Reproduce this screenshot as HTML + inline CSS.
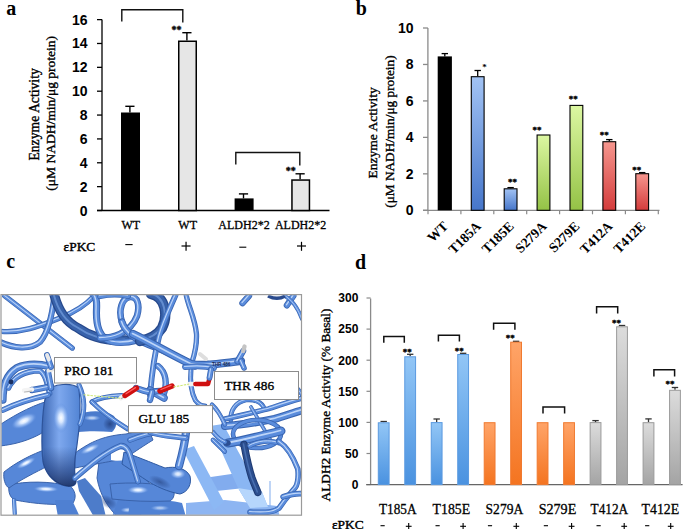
<!DOCTYPE html>
<html><head><meta charset="utf-8"><style>
html,body{margin:0;padding:0;background:#fff;}
svg{display:block;}
</style></head><body>
<svg width="685" height="529" viewBox="0 0 685 529">
<rect width="685" height="529" fill="#fff"/>
<text x="6.2" y="14.6" font-family='"Liberation Serif", serif' font-size="20" font-weight="bold" text-anchor="start" fill="#000" >a</text>
<line x1="102" y1="19.6" x2="102" y2="211.1" stroke="#000" stroke-width="1.3"/>
<line x1="97" y1="210.5" x2="102" y2="210.5" stroke="#000" stroke-width="1.3"/>
<text x="87.5" y="215.5" font-family='"Liberation Sans", sans-serif' font-size="14" font-weight="bold" text-anchor="end" fill="#000" >0</text>
<line x1="97" y1="186.64" x2="102" y2="186.64" stroke="#000" stroke-width="1.3"/>
<text x="87.5" y="191.64" font-family='"Liberation Sans", sans-serif' font-size="14" font-weight="bold" text-anchor="end" fill="#000" >2</text>
<line x1="97" y1="162.78" x2="102" y2="162.78" stroke="#000" stroke-width="1.3"/>
<text x="87.5" y="167.78" font-family='"Liberation Sans", sans-serif' font-size="14" font-weight="bold" text-anchor="end" fill="#000" >4</text>
<line x1="97" y1="138.92000000000002" x2="102" y2="138.92000000000002" stroke="#000" stroke-width="1.3"/>
<text x="87.5" y="143.92000000000002" font-family='"Liberation Sans", sans-serif' font-size="14" font-weight="bold" text-anchor="end" fill="#000" >6</text>
<line x1="97" y1="115.06" x2="102" y2="115.06" stroke="#000" stroke-width="1.3"/>
<text x="87.5" y="120.06" font-family='"Liberation Sans", sans-serif' font-size="14" font-weight="bold" text-anchor="end" fill="#000" >8</text>
<line x1="97" y1="91.2" x2="102" y2="91.2" stroke="#000" stroke-width="1.3"/>
<text x="87.5" y="96.2" font-family='"Liberation Sans", sans-serif' font-size="14" font-weight="bold" text-anchor="end" fill="#000" >10</text>
<line x1="97" y1="67.34" x2="102" y2="67.34" stroke="#000" stroke-width="1.3"/>
<text x="87.5" y="72.34" font-family='"Liberation Sans", sans-serif' font-size="14" font-weight="bold" text-anchor="end" fill="#000" >12</text>
<line x1="97" y1="43.48000000000002" x2="102" y2="43.48000000000002" stroke="#000" stroke-width="1.3"/>
<text x="87.5" y="48.48000000000002" font-family='"Liberation Sans", sans-serif' font-size="14" font-weight="bold" text-anchor="end" fill="#000" >14</text>
<line x1="97" y1="19.620000000000005" x2="102" y2="19.620000000000005" stroke="#000" stroke-width="1.3"/>
<text x="87.5" y="24.620000000000005" font-family='"Liberation Sans", sans-serif' font-size="14" font-weight="bold" text-anchor="end" fill="#000" >16</text>
<line x1="97" y1="210.5" x2="329.5" y2="210.5" stroke="#000" stroke-width="1.4"/>
<line x1="129.9" y1="106.3" x2="129.9" y2="112.5" stroke="#000" stroke-width="1.4"/>
<line x1="125.30000000000001" y1="106.3" x2="134.5" y2="106.3" stroke="#000" stroke-width="1.4"/>
<rect x="121" y="112.5" width="19" height="98.0" fill="#000"/>
<line x1="186.9" y1="32.7" x2="186.9" y2="40.5" stroke="#000" stroke-width="1.4"/>
<line x1="182.3" y1="32.7" x2="191.5" y2="32.7" stroke="#000" stroke-width="1.4"/>
<rect x="178.75" y="41.25" width="17.5" height="169.25" fill="#e6e6e6" stroke="#000" stroke-width="1.5"/>
<line x1="243.5" y1="193.9" x2="243.5" y2="198.4" stroke="#000" stroke-width="1.4"/>
<line x1="238.9" y1="193.9" x2="248.1" y2="193.9" stroke="#000" stroke-width="1.4"/>
<rect x="234.6" y="198.4" width="19" height="12.099999999999994" fill="#000"/>
<line x1="300.09999999999997" y1="173.8" x2="300.09999999999997" y2="179.3" stroke="#000" stroke-width="1.4"/>
<line x1="295.49999999999994" y1="173.8" x2="304.7" y2="173.8" stroke="#000" stroke-width="1.4"/>
<rect x="291.95" y="180.05" width="17.5" height="30.44999999999999" fill="#e6e6e6" stroke="#000" stroke-width="1.5"/>
<path d="M121.8 21.6 L121.8 9.8 L182.8 9.8 L182.8 22.6" fill="none" stroke="#111" stroke-width="1.4"/>
<path d="M235.8 164.4 L235.8 152.5 L299.8 152.5 L299.8 165.5" fill="none" stroke="#111" stroke-width="1.4"/>
<text x="176.6" y="33.2" font-family='"Liberation Serif", serif' font-size="10" font-weight="bold" text-anchor="middle" fill="#000" stroke="#000" stroke-width="0.35" >**</text>
<text x="290.8" y="174.2" font-family='"Liberation Serif", serif' font-size="10" font-weight="bold" text-anchor="middle" fill="#000" stroke="#000" stroke-width="0.35" >**</text>
<text x="130.8" y="228.8" font-family='"Liberation Serif", serif' font-size="12" font-weight="normal" text-anchor="middle" fill="#000" stroke="#000" stroke-width="0.3" >WT</text>
<text x="187.7" y="228.8" font-family='"Liberation Serif", serif' font-size="12" font-weight="normal" text-anchor="middle" fill="#000" stroke="#000" stroke-width="0.3" >WT</text>
<text x="244" y="228.8" font-family='"Liberation Serif", serif' font-size="12" font-weight="normal" text-anchor="middle" fill="#000" stroke="#000" stroke-width="0.3" >ALDH2*2</text>
<text x="300.6" y="228.8" font-family='"Liberation Serif", serif' font-size="12" font-weight="normal" text-anchor="middle" fill="#000" stroke="#000" stroke-width="0.3" >ALDH2*2</text>
<text x="63.6" y="250.8" font-family='"Liberation Serif", serif' font-size="13.4" font-weight="normal" text-anchor="start" fill="#000" stroke="#000" stroke-width="0.4" >&#949;PKC</text>
<line x1="125.3" y1="244.6" x2="132.6" y2="244.6" stroke="#000" stroke-width="1.1"/>
<line x1="181.5" y1="246.0" x2="190.6" y2="246.0" stroke="#000" stroke-width="1.2"/>
<line x1="186.05" y1="241.8" x2="186.05" y2="250.8" stroke="#000" stroke-width="1.2"/>
<line x1="239.3" y1="247.2" x2="246.3" y2="247.2" stroke="#000" stroke-width="1.1"/>
<line x1="297.0" y1="246.0" x2="306.0" y2="246.0" stroke="#000" stroke-width="1.2"/>
<line x1="301.5" y1="241.8" x2="301.5" y2="250.8" stroke="#000" stroke-width="1.2"/>
<text transform="translate(39.3,114.4) rotate(-90)" font-family='"Liberation Serif", serif' font-size="13.7" text-anchor="middle" stroke="#000" stroke-width="0.35">Enzyme Activity</text>
<text transform="translate(55.3,113.3) rotate(-90)" font-family='"Liberation Serif", serif' font-size="13.5" text-anchor="middle" stroke="#000" stroke-width="0.35">(&#956;M NADH/min/&#956;g protein)</text>
<defs>
<linearGradient id="gb" x1="0" y1="0" x2="0" y2="1"><stop offset="0" stop-color="#a2c3f4"/><stop offset="1" stop-color="#4676ca"/></linearGradient>
<linearGradient id="gg" x1="0" y1="0" x2="0" y2="1"><stop offset="0" stop-color="#dcf7a2"/><stop offset="1" stop-color="#94c246"/></linearGradient>
<linearGradient id="gr" x1="0" y1="0" x2="0" y2="1"><stop offset="0" stop-color="#f6968e"/><stop offset="1" stop-color="#d43c3c"/></linearGradient>
</defs>
<text x="355.7" y="14.6" font-family='"Liberation Serif", serif' font-size="20" font-weight="bold" text-anchor="start" fill="#000" >b</text>
<line x1="427.9" y1="28" x2="427.9" y2="210.3" stroke="#8a8a8a" stroke-width="1.3"/>
<line x1="423" y1="210.3" x2="427.9" y2="210.3" stroke="#8a8a8a" stroke-width="1.3"/>
<text x="413.6" y="215.3" font-family='"Liberation Sans", sans-serif' font-size="14" font-weight="bold" text-anchor="end" fill="#000" >0</text>
<line x1="423" y1="173.84" x2="427.9" y2="173.84" stroke="#8a8a8a" stroke-width="1.3"/>
<text x="413.6" y="178.84" font-family='"Liberation Sans", sans-serif' font-size="14" font-weight="bold" text-anchor="end" fill="#000" >2</text>
<line x1="423" y1="137.38" x2="427.9" y2="137.38" stroke="#8a8a8a" stroke-width="1.3"/>
<text x="413.6" y="142.38" font-family='"Liberation Sans", sans-serif' font-size="14" font-weight="bold" text-anchor="end" fill="#000" >4</text>
<line x1="423" y1="100.92000000000002" x2="427.9" y2="100.92000000000002" stroke="#8a8a8a" stroke-width="1.3"/>
<text x="413.6" y="105.92000000000002" font-family='"Liberation Sans", sans-serif' font-size="14" font-weight="bold" text-anchor="end" fill="#000" >6</text>
<line x1="423" y1="64.46000000000001" x2="427.9" y2="64.46000000000001" stroke="#8a8a8a" stroke-width="1.3"/>
<text x="413.6" y="69.46000000000001" font-family='"Liberation Sans", sans-serif' font-size="14" font-weight="bold" text-anchor="end" fill="#000" >8</text>
<line x1="423" y1="28.0" x2="427.9" y2="28.0" stroke="#8a8a8a" stroke-width="1.3"/>
<text x="413.6" y="33.0" font-family='"Liberation Sans", sans-serif' font-size="14" font-weight="bold" text-anchor="end" fill="#000" >10</text>
<line x1="423" y1="210.3" x2="659.5" y2="210.3" stroke="#8a8a8a" stroke-width="1.3"/>
<line x1="428.0" y1="210.3" x2="428.0" y2="214.3" stroke="#8a8a8a" stroke-width="1.2"/>
<line x1="460.9" y1="210.3" x2="460.9" y2="214.3" stroke="#8a8a8a" stroke-width="1.2"/>
<line x1="493.8" y1="210.3" x2="493.8" y2="214.3" stroke="#8a8a8a" stroke-width="1.2"/>
<line x1="526.7" y1="210.3" x2="526.7" y2="214.3" stroke="#8a8a8a" stroke-width="1.2"/>
<line x1="559.6" y1="210.3" x2="559.6" y2="214.3" stroke="#8a8a8a" stroke-width="1.2"/>
<line x1="592.5" y1="210.3" x2="592.5" y2="214.3" stroke="#8a8a8a" stroke-width="1.2"/>
<line x1="625.4" y1="210.3" x2="625.4" y2="214.3" stroke="#8a8a8a" stroke-width="1.2"/>
<line x1="658.3" y1="210.3" x2="658.3" y2="214.3" stroke="#8a8a8a" stroke-width="1.2"/>
<line x1="444.8" y1="53.6" x2="444.8" y2="56.4" stroke="#000" stroke-width="1.3"/>
<line x1="441.6" y1="53.6" x2="448.0" y2="53.6" stroke="#000" stroke-width="1.3"/>
<rect x="437.7" y="56.4" width="14.2" height="153.9" fill="#000"/>
<text transform="translate(448.8,227.0) rotate(-45)" font-family='"Liberation Serif", serif' font-size="13.6" font-weight="bold" text-anchor="end">WT</text>
<line x1="477.7" y1="70.5" x2="477.7" y2="76.2" stroke="#000" stroke-width="1.3"/>
<line x1="474.5" y1="70.5" x2="480.9" y2="70.5" stroke="#000" stroke-width="1.3"/>
<rect x="471.3" y="76.7" width="12.8" height="133.60000000000002" fill="url(#gb)" stroke="#000" stroke-width="1.1"/>
<text transform="translate(481.7,227.0) rotate(-45)" font-family='"Liberation Serif", serif' font-size="13.6" font-weight="bold" text-anchor="end">T185A</text>
<line x1="510.6" y1="187.6" x2="510.6" y2="188.3" stroke="#000" stroke-width="1.3"/>
<line x1="507.40000000000003" y1="187.6" x2="513.8000000000001" y2="187.6" stroke="#000" stroke-width="1.3"/>
<rect x="504.20000000000005" y="188.8" width="12.8" height="21.5" fill="url(#gb)" stroke="#000" stroke-width="1.1"/>
<text transform="translate(514.6,227.0) rotate(-45)" font-family='"Liberation Serif", serif' font-size="13.6" font-weight="bold" text-anchor="end">T185E</text>
<rect x="537.1" y="135.0" width="12.8" height="75.30000000000001" fill="url(#gg)" stroke="#000" stroke-width="1.1"/>
<text transform="translate(547.5,227.0) rotate(-45)" font-family='"Liberation Serif", serif' font-size="13.6" font-weight="bold" text-anchor="end">S279A</text>
<rect x="570.0" y="105.4" width="12.8" height="104.9" fill="url(#gg)" stroke="#000" stroke-width="1.1"/>
<text transform="translate(580.4,227.0) rotate(-45)" font-family='"Liberation Serif", serif' font-size="13.6" font-weight="bold" text-anchor="end">S279E</text>
<line x1="609.3" y1="139.6" x2="609.3" y2="141.2" stroke="#000" stroke-width="1.3"/>
<line x1="606.0999999999999" y1="139.6" x2="612.5" y2="139.6" stroke="#000" stroke-width="1.3"/>
<rect x="602.9" y="141.7" width="12.8" height="68.60000000000002" fill="url(#gr)" stroke="#000" stroke-width="1.1"/>
<text transform="translate(613.3,227.0) rotate(-45)" font-family='"Liberation Serif", serif' font-size="13.6" font-weight="bold" text-anchor="end">T412A</text>
<line x1="642.2" y1="172.6" x2="642.2" y2="173.2" stroke="#000" stroke-width="1.3"/>
<line x1="639.0" y1="172.6" x2="645.4000000000001" y2="172.6" stroke="#000" stroke-width="1.3"/>
<rect x="635.8000000000001" y="173.7" width="12.8" height="36.60000000000002" fill="url(#gr)" stroke="#000" stroke-width="1.1"/>
<text transform="translate(646.2,227.0) rotate(-45)" font-family='"Liberation Serif", serif' font-size="13.6" font-weight="bold" text-anchor="end">T412E</text>
<text x="484.5" y="70.3" font-family='"Liberation Serif", serif' font-size="9" font-weight="bold" text-anchor="middle" fill="#000" >*</text>
<text x="512.5" y="184.98000000000002" font-family='"Liberation Serif", serif' font-size="9" font-weight="bold" text-anchor="middle" fill="#000" stroke="#000" stroke-width="0.35" >**</text>
<text x="536.9" y="132.98000000000002" font-family='"Liberation Serif", serif' font-size="9" font-weight="bold" text-anchor="middle" fill="#000" stroke="#000" stroke-width="0.35" >**</text>
<text x="573.2" y="102.18" font-family='"Liberation Serif", serif' font-size="9" font-weight="bold" text-anchor="middle" fill="#000" stroke="#000" stroke-width="0.35" >**</text>
<text x="604.2" y="137.88" font-family='"Liberation Serif", serif' font-size="9" font-weight="bold" text-anchor="middle" fill="#000" stroke="#000" stroke-width="0.35" >**</text>
<text x="636.8" y="172.98000000000002" font-family='"Liberation Serif", serif' font-size="9" font-weight="bold" text-anchor="middle" fill="#000" stroke="#000" stroke-width="0.35" >**</text>
<text transform="translate(377.3,132.9) rotate(-90)" font-family='"Liberation Serif", serif' font-size="13.5" text-anchor="middle" stroke="#000" stroke-width="0.35">Enzyme Activity</text>
<text transform="translate(394.0,131.6) rotate(-90)" font-family='"Liberation Serif", serif' font-size="13.3" text-anchor="middle" stroke="#000" stroke-width="0.35">(&#956;M NADH/min/&#956;g protein)</text>
<text x="6.2" y="268.1" font-family='"Liberation Serif", serif' font-size="20" font-weight="bold" text-anchor="start" fill="#000" >c</text>
<defs>
<clipPath id="cclip"><rect x="1.5" y="295.2" width="299.5" height="219.5"/></clipPath>
<radialGradient id="hlA" cx="0.5" cy="0.5" r="0.5"><stop offset="0" stop-color="#ffffff"/><stop offset="0.3" stop-color="#d8e8ff"/><stop offset="0.7" stop-color="#90b6f2" stop-opacity="0.6"/><stop offset="1" stop-color="#5687d8" stop-opacity="0"/></radialGradient>
<radialGradient id="shA" cx="0.5" cy="0.5" r="0.5"><stop offset="0" stop-color="#1c3670"/><stop offset="0.6" stop-color="#2a4b8e" stop-opacity="0.6"/><stop offset="1" stop-color="#2a4b8e" stop-opacity="0"/></radialGradient>
</defs>
<rect x="1" y="294.6" width="300.5" height="220.6" fill="#fff"/>
<g clip-path="url(#cclip)">
<path d="M186 503 L225 500 L277 506 L280 517 L186 517 Z" fill="#8db5f2" />
<path d="M204 478 L252 471 L254 487 L207 492 Z" fill="#82acee" />
<path d="M183 450 L194 446 L224 502 L214 510 Z" fill="#8cb8f4" />
<path d="M210 426 L223 424 L254 480 L262 492 L268 507 L250 508 L244 498 L238 488 Z" fill="#8ab6f3" />
<path d="M238 488 L262 492 L268 507 L250 508 Z" fill="#b6d6fc" />
<path d="M99 462 C108 458 118 457 126 458 L140 470 L150 484 L140 517 L118 517 C108 508 100 495 97 478 Z" fill="#5687d8" stroke="#3a63ab" stroke-width="1"/>
<ellipse cx="108" cy="502" rx="10" ry="6" fill="url(#shA)" opacity="0.6" transform="rotate(30 108 502)"/>
<path d="M75 453 C88 444 100 436 126 434 C135 432 142 430 148 428 L153 440 C140 448 130 455 126 458 C115 461 100 463 75 468 Z" fill="#5b8bda" stroke="#3a62aa" stroke-width="1"/>
<ellipse cx="90" cy="449" rx="11" ry="3.5" fill="url(#hlA)" opacity="0.9" transform="rotate(-25 90 449)"/>
<path d="M111 450 C116 448 124 449 127 452 L126 460 C120 461 114 461 111 460 Z" fill="#ffffff" />
<path d="M77 415 C88 410 105 410 114 416 C118 422 116 429 112 432 C100 431 88 431 78 432 Z" fill="#4b7bcc" />
<ellipse cx="92" cy="418" rx="9" ry="3" fill="url(#hlA)" opacity="0.7" transform="rotate(0 92 418)"/>
<ellipse cx="110" cy="424" rx="7" ry="7" fill="url(#shA)" opacity="0.75" transform="rotate(0 110 424)"/>
<path d="M77 481 L85 478 L101 496 L106 517 L94 517 L79 491 Z" fill="#4d7cca" />
<path d="M118 500 C130 498 150 497 160 498 L160 517 L112 517 Z" fill="#4f80d2" />
<ellipse cx="128" cy="510" rx="8" ry="3" fill="url(#hlA)" opacity="0.7" transform="rotate(0 128 510)"/>
<path d="M130 500 C150 498 170 500 182 503 L186 517 L128 517 Z" fill="#5082d4" />
<ellipse cx="160" cy="508" rx="10" ry="3" fill="url(#hlA)" opacity="0.6" transform="rotate(0 160 508)"/>
<path d="M110 484 C130 482 155 483 172 487 C176 492 174 499 170 501 C150 502 130 501 112 499 Z" fill="#5687d8" stroke="#3a63ab" stroke-width="1"/>
<ellipse cx="138" cy="490" rx="11" ry="4" fill="url(#hlA)" opacity="1" transform="rotate(0 138 490)"/>
<path d="M124 452 C135 456 150 462 165 468 C175 466 186 468 190 476 C192 484 188 492 180 494 C168 492 155 486 146 480 C137 474 128 468 122 464 Z" fill="#5485d6" stroke="#2f5aa2" stroke-width="1"/>
<ellipse cx="160" cy="482" rx="12" ry="5" fill="url(#shA)" opacity="0.55" transform="rotate(25 160 482)"/>
<ellipse cx="178" cy="474" rx="8" ry="5" fill="url(#hlA)" opacity="0.9" transform="rotate(0 178 474)"/>
<path d="M186 432 C185 444 182 455 179 466" fill="none" stroke="#3864b0" stroke-width="8.28" stroke-linecap="round" stroke-linejoin="round"/>
<path d="M186 432 C185 444 182 455 179 466" fill="none" stroke="#5a8cdc" stroke-width="6.13" stroke-linecap="round" stroke-linejoin="round"/>
<path d="M186 432 C185 444 182 455 179 466" fill="none" stroke="#cfe2fd" stroke-width="1.66" stroke-linecap="round" stroke-linejoin="round" opacity="0.85" transform="translate(-0.5,-0.5)"/>
<defs><linearGradient id="h1g" x1="0" y1="0" x2="1" y2="0"><stop offset="0" stop-color="#3b66b2"/><stop offset="0.45" stop-color="#7ea8ee"/><stop offset="1" stop-color="#5284d4"/></linearGradient></defs>
<path d="M9 485 C25 481 50 481 70 486 C75 490 77 497 73 503 C60 506 35 504 15 500 C10 498 8 492 9 485 Z" fill="#5687d8" stroke="#3a63ab" stroke-width="1"/>
<ellipse cx="46" cy="489" rx="13" ry="3.2" fill="url(#hlA)" opacity="1" transform="rotate(2 46 489)"/>
<path d="M55 500 L72 500 L80 517 L58 517 Z" fill="#4f80d2" />
<path d="M4 472 C15 463 32 454 47 449 C50 455 50 462 48 466 C36 472 20 480 9 488 C5 486 3 478 4 472 Z" fill="#5687d8" stroke="#3a63ab" stroke-width="1"/>
<ellipse cx="26" cy="463" rx="11" ry="3.5" fill="url(#hlA)" opacity="1" transform="rotate(-28 26 463)"/>
<path d="M-2 426 C10 418 28 407 48 401 L52 425 C45 433 30 440 15 443.5 C8 445 2 446 -2 446 Z" fill="#5687d8" stroke="#3a63ab" stroke-width="1"/>
<ellipse cx="24" cy="421" rx="14" ry="6.5" fill="url(#hlA)" opacity="1" transform="rotate(-25 24 421)"/>
<path d="M48 392 C50 383 76 382 79 389 C81 405 80 425 77 445 C75 458 73 468 76 480 C77 486 70 488 62 485 C52 481 45 472 43 462 C41 445 42 420 44 405 C45 398 46 394 48 392 Z" fill="url(#h1g)" stroke="#2e549a" stroke-width="1.2"/>
<ellipse cx="61" cy="418" rx="8" ry="15" fill="url(#hlA)" opacity="1" transform="rotate(0 61 418)"/>
<defs><linearGradient id="h1s" x1="0" y1="0" x2="0" y2="1"><stop offset="0" stop-color="#1e3a78" stop-opacity="0"/><stop offset="0.55" stop-color="#1e3a78" stop-opacity="0.55"/><stop offset="1" stop-color="#15295a" stop-opacity="0.85"/></linearGradient></defs>
<path d="M44 448 C50 446 70 446 76 448 C75 458 73 468 76 480 C77 486 70 488 62 485 C52 481 45 472 43 462 Z" fill="url(#h1s)" />
<path d="M14 500 L15 517" fill="none" stroke="#3864b0" stroke-width="4.14" stroke-linecap="round" stroke-linejoin="round"/>
<path d="M14 500 L15 517" fill="none" stroke="#5a8cdc" stroke-width="3.06" stroke-linecap="round" stroke-linejoin="round"/>
<path d="M14 500 L15 517" fill="none" stroke="#cfe2fd" stroke-width="0.83" stroke-linecap="round" stroke-linejoin="round" opacity="0.85" transform="translate(-0.5,-0.5)"/>
<path d="M75 478 C90 465 105 452 121 445.7 C126 446 129 450 131 458 L138 481.5" fill="none" stroke="#3864b0" stroke-width="5.795999999999999" stroke-linecap="round" stroke-linejoin="round"/>
<path d="M75 478 C90 465 105 452 121 445.7 C126 446 129 450 131 458 L138 481.5" fill="none" stroke="#5a8cdc" stroke-width="4.29" stroke-linecap="round" stroke-linejoin="round"/>
<path d="M75 478 C90 465 105 452 121 445.7 C126 446 129 450 131 458 L138 481.5" fill="none" stroke="#cfe2fd" stroke-width="1.16" stroke-linecap="round" stroke-linejoin="round" opacity="0.85" transform="translate(-0.5,-0.5)"/>
<path d="M130 440 C140 436 150 433 160 432" fill="none" stroke="#3864b0" stroke-width="5.52" stroke-linecap="round" stroke-linejoin="round"/>
<path d="M130 440 C140 436 150 433 160 432" fill="none" stroke="#5a8cdc" stroke-width="4.08" stroke-linecap="round" stroke-linejoin="round"/>
<path d="M130 440 C140 436 150 433 160 432" fill="none" stroke="#cfe2fd" stroke-width="1.10" stroke-linecap="round" stroke-linejoin="round" opacity="0.85" transform="translate(-0.5,-0.5)"/>
<path d="M79 385 C85 398 85 412 80 424" fill="none" stroke="#3864b0" stroke-width="4.968" stroke-linecap="round" stroke-linejoin="round"/>
<path d="M79 385 C85 398 85 412 80 424" fill="none" stroke="#5a8cdc" stroke-width="3.68" stroke-linecap="round" stroke-linejoin="round"/>
<path d="M79 385 C85 398 85 412 80 424" fill="none" stroke="#cfe2fd" stroke-width="0.99" stroke-linecap="round" stroke-linejoin="round" opacity="0.85" transform="translate(-0.5,-0.5)"/>
<path d="M4.5 295.7 L72.3 348.1" fill="none" stroke="#3864b0" stroke-width="5.244" stroke-linecap="round" stroke-linejoin="round"/>
<path d="M4.5 295.7 L72.3 348.1" fill="none" stroke="#5a8cdc" stroke-width="3.88" stroke-linecap="round" stroke-linejoin="round"/>
<path d="M4.5 295.7 L72.3 348.1" fill="none" stroke="#cfe2fd" stroke-width="1.05" stroke-linecap="round" stroke-linejoin="round" opacity="0.85" transform="translate(-0.5,-0.5)"/>
<path d="M-2 331 C20 334 40 326 60 318 C75 312 86 305 94 296" fill="none" stroke="#3864b0" stroke-width="5.244" stroke-linecap="round" stroke-linejoin="round"/>
<path d="M-2 331 C20 334 40 326 60 318 C75 312 86 305 94 296" fill="none" stroke="#5a8cdc" stroke-width="3.88" stroke-linecap="round" stroke-linejoin="round"/>
<path d="M-2 331 C20 334 40 326 60 318 C75 312 86 305 94 296" fill="none" stroke="#cfe2fd" stroke-width="1.05" stroke-linecap="round" stroke-linejoin="round" opacity="0.85" transform="translate(-0.5,-0.5)"/>
<path d="M-2 341 C14 349 30 350 40 342 C48 333 52 318 54.6 294" fill="none" stroke="#3864b0" stroke-width="6.072" stroke-linecap="round" stroke-linejoin="round"/>
<path d="M-2 341 C14 349 30 350 40 342 C48 333 52 318 54.6 294" fill="none" stroke="#5a8cdc" stroke-width="4.49" stroke-linecap="round" stroke-linejoin="round"/>
<path d="M-2 341 C14 349 30 350 40 342 C48 333 52 318 54.6 294" fill="none" stroke="#cfe2fd" stroke-width="1.21" stroke-linecap="round" stroke-linejoin="round" opacity="0.85" transform="translate(-0.5,-0.5)"/>
<path d="M54 294 C58 310 66 322 78 328 C92 338 110 341 125 340" fill="none" stroke="#27498c" stroke-width="9.66" stroke-linecap="round" stroke-linejoin="round"/>
<path d="M54 294 C58 310 66 322 78 328 C92 338 110 341 125 340" fill="none" stroke="#3862aa" stroke-width="7.15" stroke-linecap="round" stroke-linejoin="round"/>
<path d="M54 294 C58 310 66 322 78 328 C92 338 110 341 125 340" fill="none" stroke="#6a94d6" stroke-width="1.93" stroke-linecap="round" stroke-linejoin="round" opacity="0.85" transform="translate(-0.5,-0.5)"/>
<path d="M93 294 C96 296 97 300 96.5 310 C96 324 98 334 106 339 C114 344 126 343 138 340" fill="none" stroke="#3864b0" stroke-width="7.175999999999999" stroke-linecap="round" stroke-linejoin="round"/>
<path d="M93 294 C96 296 97 300 96.5 310 C96 324 98 334 106 339 C114 344 126 343 138 340" fill="none" stroke="#5a8cdc" stroke-width="5.31" stroke-linecap="round" stroke-linejoin="round"/>
<path d="M93 294 C96 296 97 300 96.5 310 C96 324 98 334 106 339 C114 344 126 343 138 340" fill="none" stroke="#cfe2fd" stroke-width="1.44" stroke-linecap="round" stroke-linejoin="round" opacity="0.85" transform="translate(-0.5,-0.5)"/>
<path d="M122 322 C118 310 122 298 130 297 C138 296 140 306 137 316 C134 324 128 330 120 334 C112 338 106 338 100 338" fill="none" stroke="#3864b0" stroke-width="6.624" stroke-linecap="round" stroke-linejoin="round"/>
<path d="M122 322 C118 310 122 298 130 297 C138 296 140 306 137 316 C134 324 128 330 120 334 C112 338 106 338 100 338" fill="none" stroke="#5a8cdc" stroke-width="4.90" stroke-linecap="round" stroke-linejoin="round"/>
<path d="M122 322 C118 310 122 298 130 297 C138 296 140 306 137 316 C134 324 128 330 120 334 C112 338 106 338 100 338" fill="none" stroke="#cfe2fd" stroke-width="1.32" stroke-linecap="round" stroke-linejoin="round" opacity="0.85" transform="translate(-0.5,-0.5)"/>
<path d="M122 322 C126 335 140 342 155 347 C168 352 180 358 195 366" fill="none" stroke="#3864b0" stroke-width="7.175999999999999" stroke-linecap="round" stroke-linejoin="round"/>
<path d="M122 322 C126 335 140 342 155 347 C168 352 180 358 195 366" fill="none" stroke="#5a8cdc" stroke-width="5.31" stroke-linecap="round" stroke-linejoin="round"/>
<path d="M122 322 C126 335 140 342 155 347 C168 352 180 358 195 366" fill="none" stroke="#cfe2fd" stroke-width="1.44" stroke-linecap="round" stroke-linejoin="round" opacity="0.85" transform="translate(-0.5,-0.5)"/>
<path d="M151 294 C166 297 168 316 162 328 C157 336 150 339 140 341" fill="none" stroke="#27498c" stroke-width="10.35" stroke-linecap="round" stroke-linejoin="round"/>
<path d="M151 294 C166 297 168 316 162 328 C157 336 150 339 140 341" fill="none" stroke="#3862aa" stroke-width="7.66" stroke-linecap="round" stroke-linejoin="round"/>
<path d="M151 294 C166 297 168 316 162 328 C157 336 150 339 140 341" fill="none" stroke="#6a94d6" stroke-width="2.07" stroke-linecap="round" stroke-linejoin="round" opacity="0.85" transform="translate(-0.5,-0.5)"/>
<path d="M100 296 C110 294 120 294 128 296" fill="none" stroke="#3864b0" stroke-width="6.209999999999999" stroke-linecap="round" stroke-linejoin="round"/>
<path d="M100 296 C110 294 120 294 128 296" fill="none" stroke="#5a8cdc" stroke-width="4.60" stroke-linecap="round" stroke-linejoin="round"/>
<path d="M100 296 C110 294 120 294 128 296" fill="none" stroke="#cfe2fd" stroke-width="1.24" stroke-linecap="round" stroke-linejoin="round" opacity="0.85" transform="translate(-0.5,-0.5)"/>
<path d="M176 294 C170 308 163 322 159 337 C155 352 152 372 150 395" fill="none" stroke="#3864b0" stroke-width="5.795999999999999" stroke-linecap="round" stroke-linejoin="round"/>
<path d="M176 294 C170 308 163 322 159 337 C155 352 152 372 150 395" fill="none" stroke="#5a8cdc" stroke-width="4.29" stroke-linecap="round" stroke-linejoin="round"/>
<path d="M176 294 C170 308 163 322 159 337 C155 352 152 372 150 395" fill="none" stroke="#cfe2fd" stroke-width="1.16" stroke-linecap="round" stroke-linejoin="round" opacity="0.85" transform="translate(-0.5,-0.5)"/>
<path d="M186 294 C188 306 195 318 196.5 334 C197 346 194 356 192 362" fill="none" stroke="#3864b0" stroke-width="5.244" stroke-linecap="round" stroke-linejoin="round"/>
<path d="M186 294 C188 306 195 318 196.5 334 C197 346 194 356 192 362" fill="none" stroke="#5a8cdc" stroke-width="3.88" stroke-linecap="round" stroke-linejoin="round"/>
<path d="M186 294 C188 306 195 318 196.5 334 C197 346 194 356 192 362" fill="none" stroke="#cfe2fd" stroke-width="1.05" stroke-linecap="round" stroke-linejoin="round" opacity="0.85" transform="translate(-0.5,-0.5)"/>
<path d="M133 334 C150 342 170 354 191 364 C200 366 210 365 241 361" fill="none" stroke="#3864b0" stroke-width="8.28" stroke-linecap="round" stroke-linejoin="round"/>
<path d="M133 334 C150 342 170 354 191 364 C200 366 210 365 241 361" fill="none" stroke="#5a8cdc" stroke-width="6.13" stroke-linecap="round" stroke-linejoin="round"/>
<path d="M133 334 C150 342 170 354 191 364 C200 366 210 365 241 361" fill="none" stroke="#cfe2fd" stroke-width="1.66" stroke-linecap="round" stroke-linejoin="round" opacity="0.85" transform="translate(-0.5,-0.5)"/>
<path d="M249 295.8 L242.5 303.1" fill="none" stroke="#3864b0" stroke-width="6.347999999999999" stroke-linecap="round" stroke-linejoin="round"/>
<path d="M249 295.8 L242.5 303.1" fill="none" stroke="#5a8cdc" stroke-width="4.70" stroke-linecap="round" stroke-linejoin="round"/>
<path d="M249 295.8 L242.5 303.1" fill="none" stroke="#cfe2fd" stroke-width="1.27" stroke-linecap="round" stroke-linejoin="round" opacity="0.85" transform="translate(-0.5,-0.5)"/>
<path d="M293.4 295.8 L286.9 305.3" fill="none" stroke="#3864b0" stroke-width="6.347999999999999" stroke-linecap="round" stroke-linejoin="round"/>
<path d="M293.4 295.8 L286.9 305.3" fill="none" stroke="#5a8cdc" stroke-width="4.70" stroke-linecap="round" stroke-linejoin="round"/>
<path d="M293.4 295.8 L286.9 305.3" fill="none" stroke="#cfe2fd" stroke-width="1.27" stroke-linecap="round" stroke-linejoin="round" opacity="0.85" transform="translate(-0.5,-0.5)"/>
<path d="M284.7 295.8 C292 300 298 308 302 319" fill="none" stroke="#3864b0" stroke-width="3.8639999999999994" stroke-linecap="round" stroke-linejoin="round"/>
<path d="M284.7 295.8 C292 300 298 308 302 319" fill="none" stroke="#5a8cdc" stroke-width="2.86" stroke-linecap="round" stroke-linejoin="round"/>
<path d="M284.7 295.8 C292 300 298 308 302 319" fill="none" stroke="#cfe2fd" stroke-width="0.77" stroke-linecap="round" stroke-linejoin="round" opacity="0.85" transform="translate(-0.5,-0.5)"/>
<path d="M268 296 C274 299 280 299 285 296" stroke="#2a4b8e" stroke-width="3.5" fill="none"/>
<path d="M237.4 361.3 L243.2 351" fill="none" stroke="#3864b0" stroke-width="6.072" stroke-linecap="round" stroke-linejoin="round"/>
<path d="M237.4 361.3 L243.2 351" fill="none" stroke="#5a8cdc" stroke-width="4.49" stroke-linecap="round" stroke-linejoin="round"/>
<path d="M237.4 361.3 L243.2 351" fill="none" stroke="#cfe2fd" stroke-width="1.21" stroke-linecap="round" stroke-linejoin="round" opacity="0.85" transform="translate(-0.5,-0.5)"/>
<path d="M243.2 351 L244.5 346.5" stroke="#c4c4c4" stroke-width="4.4" stroke-linecap="round"/>
<path d="M241 361 L244 368" fill="none" stroke="#3864b0" stroke-width="5.52" stroke-linecap="round" stroke-linejoin="round"/>
<path d="M241 361 L244 368" fill="none" stroke="#5a8cdc" stroke-width="4.08" stroke-linecap="round" stroke-linejoin="round"/>
<path d="M241 361 L244 368" fill="none" stroke="#cfe2fd" stroke-width="1.10" stroke-linecap="round" stroke-linejoin="round" opacity="0.85" transform="translate(-0.5,-0.5)"/>
<path d="M200 354 L206 359" stroke="#dedede" stroke-width="4" stroke-linecap="round"/>
<path d="M2.8 400 C3 385 6 375 17 367.8 C28 363 40 364 49.6 366.4" fill="none" stroke="#3864b0" stroke-width="7.59" stroke-linecap="round" stroke-linejoin="round"/>
<path d="M2.8 400 C3 385 6 375 17 367.8 C28 363 40 364 49.6 366.4" fill="none" stroke="#5a8cdc" stroke-width="5.62" stroke-linecap="round" stroke-linejoin="round"/>
<path d="M2.8 400 C3 385 6 375 17 367.8 C28 363 40 364 49.6 366.4" fill="none" stroke="#cfe2fd" stroke-width="1.52" stroke-linecap="round" stroke-linejoin="round" opacity="0.85" transform="translate(-0.5,-0.5)"/>
<path d="M8.5 388 C14 376 24 371 39.7 370.7 C45 374 47 382 49.6 393.4" fill="none" stroke="#3864b0" stroke-width="5.52" stroke-linecap="round" stroke-linejoin="round"/>
<path d="M8.5 388 C14 376 24 371 39.7 370.7 C45 374 47 382 49.6 393.4" fill="none" stroke="#5a8cdc" stroke-width="4.08" stroke-linecap="round" stroke-linejoin="round"/>
<path d="M8.5 388 C14 376 24 371 39.7 370.7 C45 374 47 382 49.6 393.4" fill="none" stroke="#cfe2fd" stroke-width="1.10" stroke-linecap="round" stroke-linejoin="round" opacity="0.85" transform="translate(-0.5,-0.5)"/>
<path d="M3 410 C15 404 30 399 48 395" fill="none" stroke="#3864b0" stroke-width="5.795999999999999" stroke-linecap="round" stroke-linejoin="round"/>
<path d="M3 410 C15 404 30 399 48 395" fill="none" stroke="#5a8cdc" stroke-width="4.29" stroke-linecap="round" stroke-linejoin="round"/>
<path d="M3 410 C15 404 30 399 48 395" fill="none" stroke="#cfe2fd" stroke-width="1.16" stroke-linecap="round" stroke-linejoin="round" opacity="0.85" transform="translate(-0.5,-0.5)"/>
<path d="M32 390 C38 389 45 388 51 386" fill="none" stroke="#3864b0" stroke-width="6.347999999999999" stroke-linecap="round" stroke-linejoin="round"/>
<path d="M32 390 C38 389 45 388 51 386" fill="none" stroke="#5a8cdc" stroke-width="4.70" stroke-linecap="round" stroke-linejoin="round"/>
<path d="M32 390 C38 389 45 388 51 386" fill="none" stroke="#cfe2fd" stroke-width="1.27" stroke-linecap="round" stroke-linejoin="round" opacity="0.85" transform="translate(-0.5,-0.5)"/>
<path d="M48 372 C49 378 50 382 51 388" fill="none" stroke="#3864b0" stroke-width="6.347999999999999" stroke-linecap="round" stroke-linejoin="round"/>
<path d="M48 372 C49 378 50 382 51 388" fill="none" stroke="#5a8cdc" stroke-width="4.70" stroke-linecap="round" stroke-linejoin="round"/>
<path d="M48 372 C49 378 50 382 51 388" fill="none" stroke="#cfe2fd" stroke-width="1.27" stroke-linecap="round" stroke-linejoin="round" opacity="0.85" transform="translate(-0.5,-0.5)"/>
<path d="M24 390.5 L32 389.5" stroke="#f4f4f4" stroke-width="4.4" stroke-linecap="round"/>
<path d="M24.5 392 L31.5 391.2" stroke="#b8b8b8" stroke-width="1.2" stroke-linecap="round"/>
<path d="M48.5 370.5 L52.5 369.5" stroke="#e6e6e6" stroke-width="4" stroke-linecap="round"/>
<path d="M47 355 L51 367" fill="none" stroke="#3864b0" stroke-width="5.795999999999999" stroke-linecap="round" stroke-linejoin="round"/>
<path d="M47 355 L51 367" fill="none" stroke="#5a8cdc" stroke-width="4.29" stroke-linecap="round" stroke-linejoin="round"/>
<path d="M47 355 L51 367" fill="none" stroke="#cfe2fd" stroke-width="1.16" stroke-linecap="round" stroke-linejoin="round" opacity="0.85" transform="translate(-0.5,-0.5)"/>
<path d="M47 355 L48.8 359.5" stroke="#e8e8e8" stroke-width="3.8" stroke-linecap="round"/>
<circle cx="11" cy="382" r="2.4" fill="#1a2f60"/>
<path d="M92 401.9 C100 397 110 396 121.8 395.5" fill="none" stroke="#3864b0" stroke-width="4.968" stroke-linecap="round" stroke-linejoin="round"/>
<path d="M92 401.9 C100 397 110 396 121.8 395.5" fill="none" stroke="#5a8cdc" stroke-width="3.68" stroke-linecap="round" stroke-linejoin="round"/>
<path d="M92 401.9 C100 397 110 396 121.8 395.5" fill="none" stroke="#cfe2fd" stroke-width="0.99" stroke-linecap="round" stroke-linejoin="round" opacity="0.85" transform="translate(-0.5,-0.5)"/>
<path d="M92 402 C100 410 110 418 127.5 428.8" fill="none" stroke="#3864b0" stroke-width="4.968" stroke-linecap="round" stroke-linejoin="round"/>
<path d="M92 402 C100 410 110 418 127.5 428.8" fill="none" stroke="#5a8cdc" stroke-width="3.68" stroke-linecap="round" stroke-linejoin="round"/>
<path d="M92 402 C100 410 110 418 127.5 428.8" fill="none" stroke="#cfe2fd" stroke-width="0.99" stroke-linecap="round" stroke-linejoin="round" opacity="0.85" transform="translate(-0.5,-0.5)"/>
<path d="M158 366 C166 372 168 384 163 396" fill="none" stroke="#3864b0" stroke-width="6.347999999999999" stroke-linecap="round" stroke-linejoin="round"/>
<path d="M158 366 C166 372 168 384 163 396" fill="none" stroke="#5a8cdc" stroke-width="4.70" stroke-linecap="round" stroke-linejoin="round"/>
<path d="M158 366 C166 372 168 384 163 396" fill="none" stroke="#cfe2fd" stroke-width="1.27" stroke-linecap="round" stroke-linejoin="round" opacity="0.85" transform="translate(-0.5,-0.5)"/>
<path d="M150 390 L164 398" fill="none" stroke="#3864b0" stroke-width="7.59" stroke-linecap="round" stroke-linejoin="round"/>
<path d="M150 390 L164 398" fill="none" stroke="#5a8cdc" stroke-width="5.62" stroke-linecap="round" stroke-linejoin="round"/>
<path d="M150 390 L164 398" fill="none" stroke="#cfe2fd" stroke-width="1.52" stroke-linecap="round" stroke-linejoin="round" opacity="0.85" transform="translate(-0.5,-0.5)"/>
<path d="M191 369.3 C190 380 191 392 195.4 400.4 C198 404 202 406 205 406" fill="none" stroke="#3864b0" stroke-width="4.968" stroke-linecap="round" stroke-linejoin="round"/>
<path d="M191 369.3 C190 380 191 392 195.4 400.4 C198 404 202 406 205 406" fill="none" stroke="#5a8cdc" stroke-width="3.68" stroke-linecap="round" stroke-linejoin="round"/>
<path d="M191 369.3 C190 380 191 392 195.4 400.4 C198 404 202 406 205 406" fill="none" stroke="#cfe2fd" stroke-width="0.99" stroke-linecap="round" stroke-linejoin="round" opacity="0.85" transform="translate(-0.5,-0.5)"/>
<path d="M185 367 C195 366 205 366 214 368" fill="none" stroke="#3864b0" stroke-width="5.795999999999999" stroke-linecap="round" stroke-linejoin="round"/>
<path d="M185 367 C195 366 205 366 214 368" fill="none" stroke="#5a8cdc" stroke-width="4.29" stroke-linecap="round" stroke-linejoin="round"/>
<path d="M185 367 C195 366 205 366 214 368" fill="none" stroke="#cfe2fd" stroke-width="1.16" stroke-linecap="round" stroke-linejoin="round" opacity="0.85" transform="translate(-0.5,-0.5)"/>
<path d="M136 388 C142 390 148 393 152 392 C156 391 158 391 160 391" fill="none" stroke="#3864b0" stroke-width="6.347999999999999" stroke-linecap="round" stroke-linejoin="round"/>
<path d="M136 388 C142 390 148 393 152 392 C156 391 158 391 160 391" fill="none" stroke="#5a8cdc" stroke-width="4.70" stroke-linecap="round" stroke-linejoin="round"/>
<path d="M136 388 C142 390 148 393 152 392 C156 391 158 391 160 391" fill="none" stroke="#cfe2fd" stroke-width="1.27" stroke-linecap="round" stroke-linejoin="round" opacity="0.85" transform="translate(-0.5,-0.5)"/>
<path d="M152 392 L150 400" fill="none" stroke="#3864b0" stroke-width="6.347999999999999" stroke-linecap="round" stroke-linejoin="round"/>
<path d="M152 392 L150 400" fill="none" stroke="#5a8cdc" stroke-width="4.70" stroke-linecap="round" stroke-linejoin="round"/>
<path d="M152 392 L150 400" fill="none" stroke="#cfe2fd" stroke-width="1.27" stroke-linecap="round" stroke-linejoin="round" opacity="0.85" transform="translate(-0.5,-0.5)"/>
<path d="M121 398 L125 395.5" stroke="#f2f2f2" stroke-width="5" stroke-linecap="round"/>
<path d="M121.5 398.5 L124.5 396.5" stroke="#b0b0b0" stroke-width="1.2" stroke-linecap="round"/>
<path d="M125 395.5 L136.5 388" stroke="#cf1010" stroke-width="5.4" stroke-linecap="round" fill="none"/>
<path d="M126 393.8 L135.5 387.6" stroke="#ff6060" stroke-width="1.3" stroke-linecap="round" fill="none"/>
<path d="M160 391 L172 386" stroke="#cf1010" stroke-width="5.4" stroke-linecap="round"/>
<path d="M161 389.5 L171 385.3" stroke="#ff6060" stroke-width="1.3" stroke-linecap="round"/>
<path d="M189.5 384 L195.4 384" stroke="#f2f2f2" stroke-width="4.6" stroke-linecap="round"/>
<path d="M195.4 384 L208 384 L210 376.5" stroke="#cf1010" stroke-width="4.6" stroke-linecap="round" stroke-linejoin="round" fill="none"/>
<path d="M209.5 377.8 L211 369.3" fill="none" stroke="#3864b0" stroke-width="5.795999999999999" stroke-linecap="round" stroke-linejoin="round"/>
<path d="M209.5 377.8 L211 369.3" fill="none" stroke="#5a8cdc" stroke-width="4.29" stroke-linecap="round" stroke-linejoin="round"/>
<path d="M209.5 377.8 L211 369.3" fill="none" stroke="#cfe2fd" stroke-width="1.16" stroke-linecap="round" stroke-linejoin="round" opacity="0.85" transform="translate(-0.5,-0.5)"/>
<path d="M83.5 394.8 L120.4 398.3" stroke="#cfe97a" stroke-width="1.1" stroke-dasharray="2.5 1"/>
<path d="M173.4 387 L189 384.1" stroke="#cfe97a" stroke-width="1.1" stroke-dasharray="2.5 1"/>
<path d="M230.8 420.3 C230 410 236 402 246 400 C254 399 262 402 264.3 408.7" fill="none" stroke="#3864b0" stroke-width="4.691999999999999" stroke-linecap="round" stroke-linejoin="round"/>
<path d="M230.8 420.3 C230 410 236 402 246 400 C254 399 262 402 264.3 408.7" fill="none" stroke="#5a8cdc" stroke-width="3.47" stroke-linecap="round" stroke-linejoin="round"/>
<path d="M230.8 420.3 C230 410 236 402 246 400 C254 399 262 402 264.3 408.7" fill="none" stroke="#cfe2fd" stroke-width="0.94" stroke-linecap="round" stroke-linejoin="round" opacity="0.85" transform="translate(-0.5,-0.5)"/>
<path d="M225 418.9 C240 416 255 412 268.7 408.7 C280 405 292 401 303 398" fill="none" stroke="#3864b0" stroke-width="5.244" stroke-linecap="round" stroke-linejoin="round"/>
<path d="M225 418.9 C240 416 255 412 268.7 408.7 C280 405 292 401 303 398" fill="none" stroke="#5a8cdc" stroke-width="3.88" stroke-linecap="round" stroke-linejoin="round"/>
<path d="M225 418.9 C240 416 255 412 268.7 408.7 C280 405 292 401 303 398" fill="none" stroke="#cfe2fd" stroke-width="1.05" stroke-linecap="round" stroke-linejoin="round" opacity="0.85" transform="translate(-0.5,-0.5)"/>
<path d="M225 426 C240 425 254 423 274.5 418.9 C285 416 295 412 303 410" fill="none" stroke="#3864b0" stroke-width="8.004" stroke-linecap="round" stroke-linejoin="round"/>
<path d="M225 426 C240 425 254 423 274.5 418.9 C285 416 295 412 303 410" fill="none" stroke="#5a8cdc" stroke-width="5.92" stroke-linecap="round" stroke-linejoin="round"/>
<path d="M225 426 C240 425 254 423 274.5 418.9 C285 416 295 412 303 410" fill="none" stroke="#cfe2fd" stroke-width="1.60" stroke-linecap="round" stroke-linejoin="round" opacity="0.85" transform="translate(-0.5,-0.5)"/>
<path d="M251 407 L271.6 442" fill="none" stroke="#3864b0" stroke-width="3.5879999999999996" stroke-linecap="round" stroke-linejoin="round"/>
<path d="M251 407 L271.6 442" fill="none" stroke="#5a8cdc" stroke-width="2.66" stroke-linecap="round" stroke-linejoin="round"/>
<path d="M251 407 L271.6 442" fill="none" stroke="#cfe2fd" stroke-width="0.72" stroke-linecap="round" stroke-linejoin="round" opacity="0.85" transform="translate(-0.5,-0.5)"/>
<ellipse cx="257" cy="434" rx="24" ry="14" fill="none" stroke="#3864b0" stroke-width="4.6"/>
<ellipse cx="257" cy="434" rx="24" ry="14" fill="none" stroke="#5a8cdc" stroke-width="3"/>
<path d="M228 443 C242 441 260 436 281 431" fill="none" stroke="#3864b0" stroke-width="8.969999999999999" stroke-linecap="round" stroke-linejoin="round"/>
<path d="M228 443 C242 441 260 436 281 431" fill="none" stroke="#5a8cdc" stroke-width="6.64" stroke-linecap="round" stroke-linejoin="round"/>
<path d="M228 443 C242 441 260 436 281 431" fill="none" stroke="#cfe2fd" stroke-width="1.79" stroke-linecap="round" stroke-linejoin="round" opacity="0.85" transform="translate(-0.5,-0.5)"/>
<ellipse cx="227" cy="443" rx="3.8" ry="3" fill="#2c4f93"/>
<path d="M212 404.7 C218 410 222 418 225 424.5" fill="none" stroke="#3864b0" stroke-width="4.4159999999999995" stroke-linecap="round" stroke-linejoin="round"/>
<path d="M212 404.7 C218 410 222 418 225 424.5" fill="none" stroke="#5a8cdc" stroke-width="3.27" stroke-linecap="round" stroke-linejoin="round"/>
<path d="M212 404.7 C218 410 222 418 225 424.5" fill="none" stroke="#cfe2fd" stroke-width="0.88" stroke-linecap="round" stroke-linejoin="round" opacity="0.85" transform="translate(-0.5,-0.5)"/>
<path d="M213 432 C216 436 220 440 225 442" fill="none" stroke="#3864b0" stroke-width="4.4159999999999995" stroke-linecap="round" stroke-linejoin="round"/>
<path d="M213 432 C216 436 220 440 225 442" fill="none" stroke="#5a8cdc" stroke-width="3.27" stroke-linecap="round" stroke-linejoin="round"/>
<path d="M213 432 C216 436 220 440 225 442" fill="none" stroke="#cfe2fd" stroke-width="0.88" stroke-linecap="round" stroke-linejoin="round" opacity="0.85" transform="translate(-0.5,-0.5)"/>
<path d="M290 380 C296 386 300 392 303 396" fill="none" stroke="#3864b0" stroke-width="4.4159999999999995" stroke-linecap="round" stroke-linejoin="round"/>
<path d="M290 380 C296 386 300 392 303 396" fill="none" stroke="#5a8cdc" stroke-width="3.27" stroke-linecap="round" stroke-linejoin="round"/>
<path d="M290 380 C296 386 300 392 303 396" fill="none" stroke="#cfe2fd" stroke-width="0.88" stroke-linecap="round" stroke-linejoin="round" opacity="0.85" transform="translate(-0.5,-0.5)"/>
<path d="M244 444.4 C246 455 248 466 252 478 C255 486 257 490 257.8 492.4" fill="none" stroke="#1e3a72" stroke-width="7.452" stroke-linecap="round" stroke-linejoin="round"/>
<path d="M244 444.4 C246 455 248 466 252 478 C255 486 257 490 257.8 492.4" fill="none" stroke="#2c4e8e" stroke-width="5.51" stroke-linecap="round" stroke-linejoin="round"/>
<path d="M244 444.4 C246 455 248 466 252 478 C255 486 257 490 257.8 492.4" fill="none" stroke="#4f76b6" stroke-width="1.49" stroke-linecap="round" stroke-linejoin="round" opacity="0.85" transform="translate(-0.5,-0.5)"/>
<path d="M249.7 445.8 C258 441 270 440 278.9 443" fill="none" stroke="#3864b0" stroke-width="4.968" stroke-linecap="round" stroke-linejoin="round"/>
<path d="M249.7 445.8 C258 441 270 440 278.9 443" fill="none" stroke="#5a8cdc" stroke-width="3.68" stroke-linecap="round" stroke-linejoin="round"/>
<path d="M249.7 445.8 C258 441 270 440 278.9 443" fill="none" stroke="#cfe2fd" stroke-width="0.99" stroke-linecap="round" stroke-linejoin="round" opacity="0.85" transform="translate(-0.5,-0.5)"/>
<path d="M278.9 441.5 C286 446 292 454 297.8 469 C299 478 297 486 294.9 488 C290 494 286 498 278.9 508.4 C274 512 268 513 250 512" fill="none" stroke="#3864b0" stroke-width="5.52" stroke-linecap="round" stroke-linejoin="round"/>
<path d="M278.9 441.5 C286 446 292 454 297.8 469 C299 478 297 486 294.9 488 C290 494 286 498 278.9 508.4 C274 512 268 513 250 512" fill="none" stroke="#5a8cdc" stroke-width="4.08" stroke-linecap="round" stroke-linejoin="round"/>
<path d="M278.9 441.5 C286 446 292 454 297.8 469 C299 478 297 486 294.9 488 C290 494 286 498 278.9 508.4 C274 512 268 513 250 512" fill="none" stroke="#cfe2fd" stroke-width="1.10" stroke-linecap="round" stroke-linejoin="round" opacity="0.85" transform="translate(-0.5,-0.5)"/>
<path d="M283.2 496.8 C292 494 297 493 303 493.9" fill="none" stroke="#3864b0" stroke-width="5.795999999999999" stroke-linecap="round" stroke-linejoin="round"/>
<path d="M283.2 496.8 C292 494 297 493 303 493.9" fill="none" stroke="#5a8cdc" stroke-width="4.29" stroke-linecap="round" stroke-linejoin="round"/>
<path d="M283.2 496.8 C292 494 297 493 303 493.9" fill="none" stroke="#cfe2fd" stroke-width="1.16" stroke-linecap="round" stroke-linejoin="round" opacity="0.85" transform="translate(-0.5,-0.5)"/>
<path d="M213 440 L224.7 451.5" fill="none" stroke="#3864b0" stroke-width="4.691999999999999" stroke-linecap="round" stroke-linejoin="round"/>
<path d="M213 440 L224.7 451.5" fill="none" stroke="#5a8cdc" stroke-width="3.47" stroke-linecap="round" stroke-linejoin="round"/>
<path d="M213 440 L224.7 451.5" fill="none" stroke="#cfe2fd" stroke-width="0.94" stroke-linecap="round" stroke-linejoin="round" opacity="0.85" transform="translate(-0.5,-0.5)"/>
<path d="M270 481 L270 507" stroke="#8ab2ee" stroke-width="1.1"/>
<path d="M150 432 C160 436 170 436 186 438" fill="none" stroke="#3864b0" stroke-width="5.52" stroke-linecap="round" stroke-linejoin="round"/>
<path d="M150 432 C160 436 170 436 186 438" fill="none" stroke="#5a8cdc" stroke-width="4.08" stroke-linecap="round" stroke-linejoin="round"/>
<path d="M150 432 C160 436 170 436 186 438" fill="none" stroke="#cfe2fd" stroke-width="1.10" stroke-linecap="round" stroke-linejoin="round" opacity="0.85" transform="translate(-0.5,-0.5)"/>
<text x="212" y="365.6" font-family='"Liberation Sans", sans-serif' font-size="4.6" font-weight="bold" fill="#1a2a50">THR 486</text>
</g>
<rect x="1" y="294.6" width="300.5" height="220.6" fill="none" stroke="#9a9a9a" stroke-width="1.2"/>
<rect x="54.5" y="357.5" width="82" height="25.5" fill="#fff" stroke="#8c8c8c" stroke-width="1"/>
<text x="64.3" y="375.3" font-family='"Liberation Serif", serif' font-size="13.3" fill="#000" stroke="#000" stroke-width="0.35">PRO 181</text>
<rect x="128.5" y="405.6" width="84" height="27" fill="#fff" stroke="#8c8c8c" stroke-width="1"/>
<text x="138.6" y="423" font-family='"Liberation Serif", serif' font-size="13.3" fill="#000" stroke="#000" stroke-width="0.35">GLU 185</text>
<rect x="214.5" y="371.5" width="84" height="28" fill="#fff" stroke="#8c8c8c" stroke-width="1"/>
<text x="224.2" y="389.7" font-family='"Liberation Serif", serif' font-size="13.3" fill="#000" stroke="#000" stroke-width="0.35">THR 486</text>
<defs>
<linearGradient id="db1" x1="0" y1="0" x2="0" y2="1"><stop offset="0" stop-color="#92c6f6"/><stop offset="1" stop-color="#4a92e0"/></linearGradient>
<linearGradient id="do1" x1="0" y1="0" x2="0" y2="1"><stop offset="0" stop-color="#ffa468"/><stop offset="1" stop-color="#f47420"/></linearGradient>
<linearGradient id="dg1" x1="0" y1="0" x2="0" y2="1"><stop offset="0" stop-color="#dcdcdc"/><stop offset="1" stop-color="#a4a4a4"/></linearGradient>
</defs>
<text x="355.1" y="268.5" font-family='"Liberation Serif", serif' font-size="20" font-weight="bold" text-anchor="start" fill="#000" >d</text>
<line x1="370.6" y1="298.5" x2="370.6" y2="484.6" stroke="#8a8a8a" stroke-width="1.3"/>
<line x1="366.5" y1="484.6" x2="370.6" y2="484.6" stroke="#8a8a8a" stroke-width="1.2"/>
<text x="358.4" y="488.90000000000003" font-family='"Liberation Sans", sans-serif' font-size="12" font-weight="bold" text-anchor="end" fill="#000" >0</text>
<line x1="366.5" y1="453.5" x2="370.6" y2="453.5" stroke="#8a8a8a" stroke-width="1.2"/>
<text x="358.4" y="457.8" font-family='"Liberation Sans", sans-serif' font-size="12" font-weight="bold" text-anchor="end" fill="#000" >50</text>
<line x1="366.5" y1="422.40000000000003" x2="370.6" y2="422.40000000000003" stroke="#8a8a8a" stroke-width="1.2"/>
<text x="358.4" y="426.70000000000005" font-family='"Liberation Sans", sans-serif' font-size="12" font-weight="bold" text-anchor="end" fill="#000" >100</text>
<line x1="366.5" y1="391.3" x2="370.6" y2="391.3" stroke="#8a8a8a" stroke-width="1.2"/>
<text x="358.4" y="395.6" font-family='"Liberation Sans", sans-serif' font-size="12" font-weight="bold" text-anchor="end" fill="#000" >150</text>
<line x1="366.5" y1="360.20000000000005" x2="370.6" y2="360.20000000000005" stroke="#8a8a8a" stroke-width="1.2"/>
<text x="358.4" y="364.50000000000006" font-family='"Liberation Sans", sans-serif' font-size="12" font-weight="bold" text-anchor="end" fill="#000" >200</text>
<line x1="366.5" y1="329.1" x2="370.6" y2="329.1" stroke="#8a8a8a" stroke-width="1.2"/>
<text x="358.4" y="333.40000000000003" font-family='"Liberation Sans", sans-serif' font-size="12" font-weight="bold" text-anchor="end" fill="#000" >250</text>
<line x1="366.5" y1="298.0" x2="370.6" y2="298.0" stroke="#8a8a8a" stroke-width="1.2"/>
<text x="358.4" y="302.3" font-family='"Liberation Sans", sans-serif' font-size="12" font-weight="bold" text-anchor="end" fill="#000" >300</text>
<line x1="366.2" y1="484.6" x2="682.6" y2="484.6" stroke="#666" stroke-width="1.4"/>
<line x1="383.7" y1="421.5" x2="383.7" y2="422.3" stroke="#333" stroke-width="1.3"/>
<line x1="380.5" y1="421.5" x2="386.9" y2="421.5" stroke="#333" stroke-width="1.3"/>
<rect x="378.3" y="422.8" width="10.8" height="61.80000000000001" fill="url(#db1)" stroke="#5a9ae0" stroke-width="1.0"/>
<line x1="410.18" y1="354.3" x2="410.18" y2="356.3" stroke="#333" stroke-width="1.3"/>
<line x1="406.98" y1="354.3" x2="413.38" y2="354.3" stroke="#333" stroke-width="1.3"/>
<rect x="404.78000000000003" y="356.8" width="10.8" height="127.80000000000001" fill="url(#db1)" stroke="#5a9ae0" stroke-width="1.0"/>
<line x1="436.65999999999997" y1="419.0" x2="436.65999999999997" y2="422.1" stroke="#333" stroke-width="1.3"/>
<line x1="433.46" y1="419.0" x2="439.85999999999996" y2="419.0" stroke="#333" stroke-width="1.3"/>
<rect x="431.26" y="422.6" width="10.8" height="62.0" fill="url(#db1)" stroke="#5a9ae0" stroke-width="1.0"/>
<line x1="463.14" y1="353.3" x2="463.14" y2="354.0" stroke="#333" stroke-width="1.3"/>
<line x1="459.94" y1="353.3" x2="466.34" y2="353.3" stroke="#333" stroke-width="1.3"/>
<rect x="457.74" y="354.5" width="10.8" height="130.10000000000002" fill="url(#db1)" stroke="#5a9ae0" stroke-width="1.0"/>
<rect x="484.22" y="422.7" width="10.8" height="61.900000000000034" fill="url(#do1)" stroke="#f07a30" stroke-width="1.0"/>
<line x1="516.1" y1="341.3" x2="516.1" y2="341.7" stroke="#333" stroke-width="1.3"/>
<line x1="512.9" y1="341.3" x2="519.3000000000001" y2="341.3" stroke="#333" stroke-width="1.3"/>
<rect x="510.70000000000005" y="342.2" width="10.8" height="142.40000000000003" fill="url(#do1)" stroke="#f07a30" stroke-width="1.0"/>
<rect x="537.1800000000001" y="422.7" width="10.8" height="61.900000000000034" fill="url(#do1)" stroke="#f07a30" stroke-width="1.0"/>
<rect x="563.6600000000001" y="422.7" width="10.8" height="61.900000000000034" fill="url(#do1)" stroke="#f07a30" stroke-width="1.0"/>
<line x1="595.54" y1="420.6" x2="595.54" y2="422.1" stroke="#333" stroke-width="1.3"/>
<line x1="592.3399999999999" y1="420.6" x2="598.74" y2="420.6" stroke="#333" stroke-width="1.3"/>
<rect x="590.14" y="422.6" width="10.8" height="62.0" fill="url(#dg1)" stroke="#9a9a9a" stroke-width="1.0"/>
<line x1="622.02" y1="325.5" x2="622.02" y2="326.3" stroke="#333" stroke-width="1.3"/>
<line x1="618.8199999999999" y1="325.5" x2="625.22" y2="325.5" stroke="#333" stroke-width="1.3"/>
<rect x="616.62" y="326.8" width="10.8" height="157.8" fill="url(#dg1)" stroke="#9a9a9a" stroke-width="1.0"/>
<line x1="648.5" y1="418.9" x2="648.5" y2="422.2" stroke="#333" stroke-width="1.3"/>
<line x1="645.3" y1="418.9" x2="651.7" y2="418.9" stroke="#333" stroke-width="1.3"/>
<rect x="643.1" y="422.7" width="10.8" height="61.900000000000034" fill="url(#dg1)" stroke="#9a9a9a" stroke-width="1.0"/>
<line x1="674.98" y1="387.5" x2="674.98" y2="389.8" stroke="#333" stroke-width="1.3"/>
<line x1="671.78" y1="387.5" x2="678.1800000000001" y2="387.5" stroke="#333" stroke-width="1.3"/>
<rect x="669.58" y="390.3" width="10.8" height="94.30000000000001" fill="url(#dg1)" stroke="#9a9a9a" stroke-width="1.0"/>
<path d="M383.8 342.7 L383.8 336.4 L404.3 336.4 L404.3 342.7" fill="none" stroke="#111" stroke-width="1.5"/>
<path d="M438.4 341.5 L438.4 335.3 L459.4 335.3 L459.4 341.5" fill="none" stroke="#111" stroke-width="1.5"/>
<path d="M493.6 329.7 L493.6 323.3 L514.9 323.3 L514.9 329.7" fill="none" stroke="#111" stroke-width="1.5"/>
<path d="M543.0 413.5 L543.0 406.9 L564.6 406.9 L564.6 413.5" fill="none" stroke="#111" stroke-width="1.5"/>
<path d="M596.6 313.5 L596.6 306.8 L617.7 306.8 L617.7 313.5" fill="none" stroke="#111" stroke-width="1.5"/>
<path d="M653.9 376.5 L653.9 369.7 L674.6 369.7 L674.6 376.5" fill="none" stroke="#111" stroke-width="1.5"/>
<text x="407.3" y="354.68" font-family='"Liberation Serif", serif' font-size="9" font-weight="bold" text-anchor="middle" fill="#000" stroke="#000" stroke-width="0.35" >**</text>
<text x="459.3" y="354.38" font-family='"Liberation Serif", serif' font-size="9" font-weight="bold" text-anchor="middle" fill="#000" stroke="#000" stroke-width="0.35" >**</text>
<text x="510.3" y="341.18" font-family='"Liberation Serif", serif' font-size="9" font-weight="bold" text-anchor="middle" fill="#000" stroke="#000" stroke-width="0.35" >**</text>
<text x="616.5" y="325.88" font-family='"Liberation Serif", serif' font-size="9" font-weight="bold" text-anchor="middle" fill="#000" stroke="#000" stroke-width="0.35" >**</text>
<text x="670" y="386.68" font-family='"Liberation Serif", serif' font-size="9" font-weight="bold" text-anchor="middle" fill="#000" stroke="#000" stroke-width="0.35" >**</text>
<text x="397.7" y="513.8" font-family='"Liberation Serif", serif' font-size="14.4" font-weight="normal" text-anchor="middle" fill="#000" stroke="#000" stroke-width="0.3" textLength="37.6" lengthAdjust="spacingAndGlyphs">T185A</text>
<text x="451.4" y="513.8" font-family='"Liberation Serif", serif' font-size="14.4" font-weight="normal" text-anchor="middle" fill="#000" stroke="#000" stroke-width="0.3" textLength="37.6" lengthAdjust="spacingAndGlyphs">T185E</text>
<text x="504.4" y="513.8" font-family='"Liberation Serif", serif' font-size="14.4" font-weight="normal" text-anchor="middle" fill="#000" stroke="#000" stroke-width="0.3" textLength="37.6" lengthAdjust="spacingAndGlyphs">S279A</text>
<text x="557.5" y="513.8" font-family='"Liberation Serif", serif' font-size="14.4" font-weight="normal" text-anchor="middle" fill="#000" stroke="#000" stroke-width="0.3" textLength="37.6" lengthAdjust="spacingAndGlyphs">S279E</text>
<text x="609.4" y="513.8" font-family='"Liberation Serif", serif' font-size="14.4" font-weight="normal" text-anchor="middle" fill="#000" stroke="#000" stroke-width="0.3" textLength="37.6" lengthAdjust="spacingAndGlyphs">T412A</text>
<text x="660.4" y="513.8" font-family='"Liberation Serif", serif' font-size="14.4" font-weight="normal" text-anchor="middle" fill="#000" stroke="#000" stroke-width="0.3" textLength="37.6" lengthAdjust="spacingAndGlyphs">T412E</text>
<text x="332" y="528.5" font-family='"Liberation Serif", serif' font-size="13.4" font-weight="normal" text-anchor="start" fill="#000" stroke="#000" stroke-width="0.4" >&#949;PKC</text>
<line x1="380.5" y1="525.7" x2="384.70000000000005" y2="525.7" stroke="#000" stroke-width="1.1"/>
<line x1="435.5" y1="525.7" x2="439.70000000000005" y2="525.7" stroke="#000" stroke-width="1.1"/>
<line x1="487.9" y1="525.7" x2="492.1" y2="525.7" stroke="#000" stroke-width="1.1"/>
<line x1="543.8" y1="525.7" x2="548.0" y2="525.7" stroke="#000" stroke-width="1.1"/>
<line x1="596.5" y1="525.7" x2="600.7" y2="525.7" stroke="#000" stroke-width="1.1"/>
<line x1="645.1" y1="525.7" x2="649.3000000000001" y2="525.7" stroke="#000" stroke-width="1.1"/>
<line x1="405.8" y1="526.3" x2="411.59999999999997" y2="526.3" stroke="#000" stroke-width="1.1"/>
<line x1="408.7" y1="523.0" x2="408.7" y2="530" stroke="#000" stroke-width="1.1"/>
<line x1="460.20000000000005" y1="526.3" x2="466.0" y2="526.3" stroke="#000" stroke-width="1.1"/>
<line x1="463.1" y1="523.0" x2="463.1" y2="530" stroke="#000" stroke-width="1.1"/>
<line x1="513.4" y1="526.3" x2="519.1999999999999" y2="526.3" stroke="#000" stroke-width="1.1"/>
<line x1="516.3" y1="523.0" x2="516.3" y2="530" stroke="#000" stroke-width="1.1"/>
<line x1="568.7" y1="526.3" x2="574.5" y2="526.3" stroke="#000" stroke-width="1.1"/>
<line x1="571.6" y1="523.0" x2="571.6" y2="530" stroke="#000" stroke-width="1.1"/>
<line x1="621.3000000000001" y1="526.3" x2="627.1" y2="526.3" stroke="#000" stroke-width="1.1"/>
<line x1="624.2" y1="523.0" x2="624.2" y2="530" stroke="#000" stroke-width="1.1"/>
<line x1="667.8000000000001" y1="526.3" x2="673.6" y2="526.3" stroke="#000" stroke-width="1.1"/>
<line x1="670.7" y1="523.0" x2="670.7" y2="530" stroke="#000" stroke-width="1.1"/>
<text transform="translate(330.3,405) rotate(-90)" font-family='"Liberation Serif", serif' font-size="13.3" text-anchor="middle" stroke="#000" stroke-width="0.35">ALDH2 Enzyme Activity (% Basal)</text>
</svg>
</body></html>
